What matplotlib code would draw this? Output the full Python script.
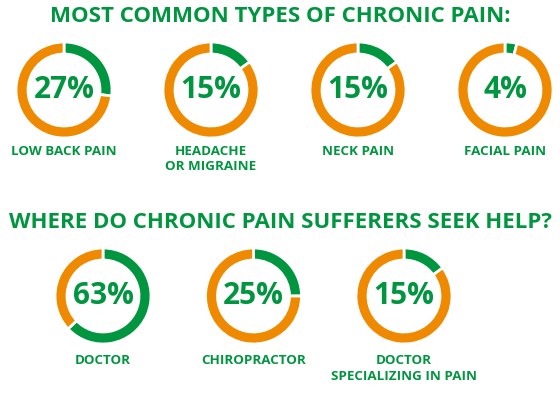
import matplotlib
matplotlib.use('Agg')
import matplotlib.pyplot as plt

GREEN = '#00963f'
ORANGE = '#ef8a00'

# data
title_top = 'MOST COMMON TYPES OF CHRONIC PAIN:'
pain_types = ['LOW BACK PAIN', 'HEADACHE\nOR MIGRAINE', 'NECK PAIN', 'FACIAL PAIN']
pain_pct = [27, 15, 15, 4]

title_bottom = 'WHERE DO CHRONIC PAIN SUFFERERS SEEK HELP?'
help_types = ['DOCTOR', 'CHIROPRACTOR', 'DOCTOR\nSPECIALIZING IN PAIN']
help_pct = [63, 25, 15]

W, H = 560, 393
fig = plt.figure(figsize=(W / 100, H / 100), dpi=100)
ax = fig.add_axes([0, 0, 1, 1])
plt.rcParams['font.family'] = ['Open Sans', 'DejaVu Sans']


def donut(ax, cx, cy, pct, label, label_gap=55):
    # cy is measured from the top of the image
    y = H - cy
    ax.pie([pct, 100 - pct], colors=[GREEN, ORANGE], startangle=90,
           counterclock=False, radius=48, center=(cx, y),
           wedgeprops=dict(width=12, edgecolor='white', linewidth=2))
    ax.text(cx, y, f'{pct}%', ha='center', va='center', color=GREEN,
            fontsize=21.5, fontweight='bold', family='Open Sans')
    ax.text(cx, y - label_gap, label, ha='center', va='top', color=GREEN,
            fontsize=9.6, fontweight='bold', family='Open Sans', linespacing=1.25)


ax.text(W / 2, H - 17, title_top, ha='center', va='center', color=GREEN,
        fontsize=16, fontweight='bold', family='Open Sans')
ax.text(W / 2, H - 223, title_bottom, ha='center', va='center', color=GREEN,
        fontsize=16, fontweight='bold', family='Open Sans')

for i, (lab, p) in enumerate(zip(pain_types, pain_pct)):
    donut(ax, 64 + i * 147, 90, p, lab, 55)

for i, (lab, p) in enumerate(zip(help_types, help_pct)):
    donut(ax, 103 + i * 150.5, 296, p, lab, 58)

ax.set_xlim(0, W)
ax.set_ylim(0, H)
ax.set_aspect('auto')
ax.axis('off')

fig.savefig('out.png', dpi=100, facecolor='white')
